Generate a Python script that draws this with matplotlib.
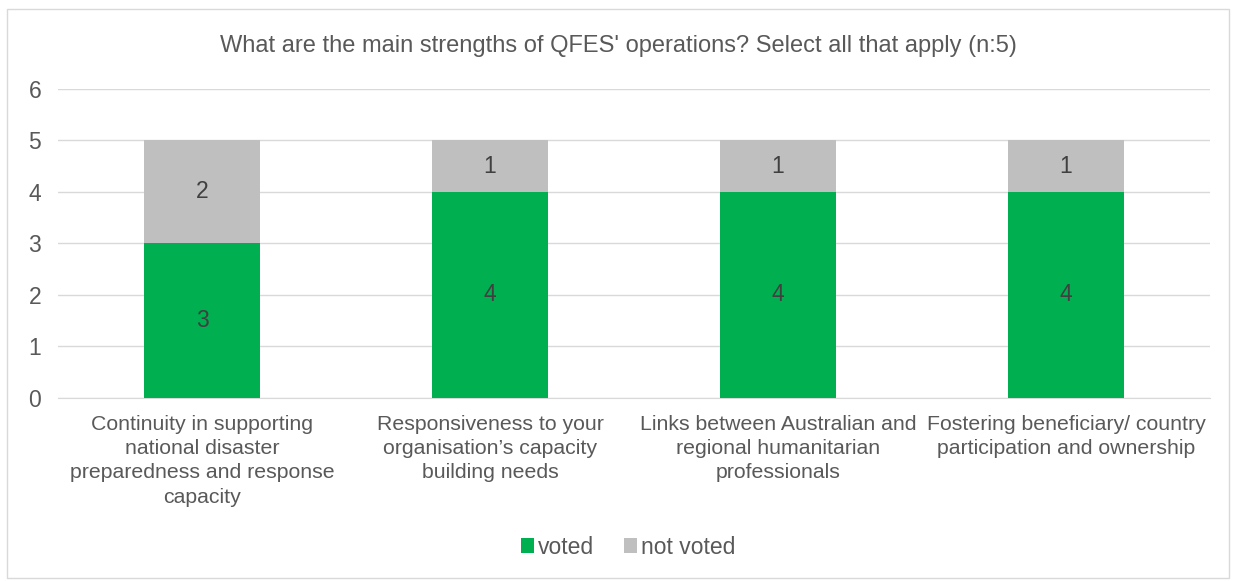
import numpy as np
import matplotlib.pyplot as plt
from matplotlib.patches import Rectangle

plt.rcParams['font.family'] = ['Liberation Sans', 'DejaVu Sans']

categories = ['Continuity in supporting\nnational disaster\npreparedness and response\ncapacity',
              'Responsiveness to your\norganisation\u2019s capacity\nbuilding needs',
              'Links between Australian and\nregional humanitarian\nprofessionals',
              'Fostering beneficiary/ country\nparticipation and ownership']
voted = [3, 4, 4, 4]
not_voted = [2, 1, 1, 1]

green = '#00b050'
grey = '#bfbfbf'
txt = '#595959'

fig = plt.figure(figsize=(12.36, 5.81), dpi=100)
ax = fig.add_axes([0.0469, 0.315, 0.9321, 0.532])

x = np.arange(len(categories))
b1 = ax.bar(x, voted, width=0.4, color=green, label='voted', zorder=3)
b2 = ax.bar(x, not_voted, width=0.4, bottom=voted, color=grey, label='not voted', zorder=3)
for bars, vals, bots in [(b1, voted, [0]*4), (b2, not_voted, voted)]:
    for r, v, b in zip(bars, vals, bots):
        ax.text(r.get_x() + r.get_width()/2, b + v/2, str(v), ha='center', va='center',
                fontsize=16.5, color='#404040', zorder=4)

ax.set_xlim(-0.5, len(categories) - 0.5)
ax.set_ylim(0, 6)
ax.set_yticks(range(7))
ax.yaxis.grid(True, color='#d9d9d9', linewidth=1, zorder=0)
ax.set_xticks(x)
ax.set_xticklabels(categories, fontsize=15.3, color=txt, linespacing=1.36)
ax.tick_params(axis='y', labelsize=16.5, labelcolor=txt, length=0, pad=12)
ax.tick_params(axis='x', length=0, pad=12)
for s in ['top', 'right', 'left']:
    ax.spines[s].set_visible(False)
ax.spines['bottom'].set_color('#d9d9d9')

fig.text(0.5, 0.921, "What are the main strengths of QFES' operations? Select all that apply (n:5)",
         ha='center', va='center', fontsize=17, color=txt)

fig.legend(handles=[b1, b2], loc='center', bbox_to_anchor=(0.508, 0.058), ncol=2, frameon=False,
           fontsize=16.5, labelcolor=txt, handlelength=0.6, handleheight=0.6,
           handletextpad=0.15, columnspacing=1.3)

fig.patches.append(Rectangle((0.006, 0.005), 0.988, 0.98, transform=fig.transFigure,
                             fill=False, edgecolor='#d9d9d9', linewidth=1))

fig.savefig('out.png', dpi=100, facecolor='white')
